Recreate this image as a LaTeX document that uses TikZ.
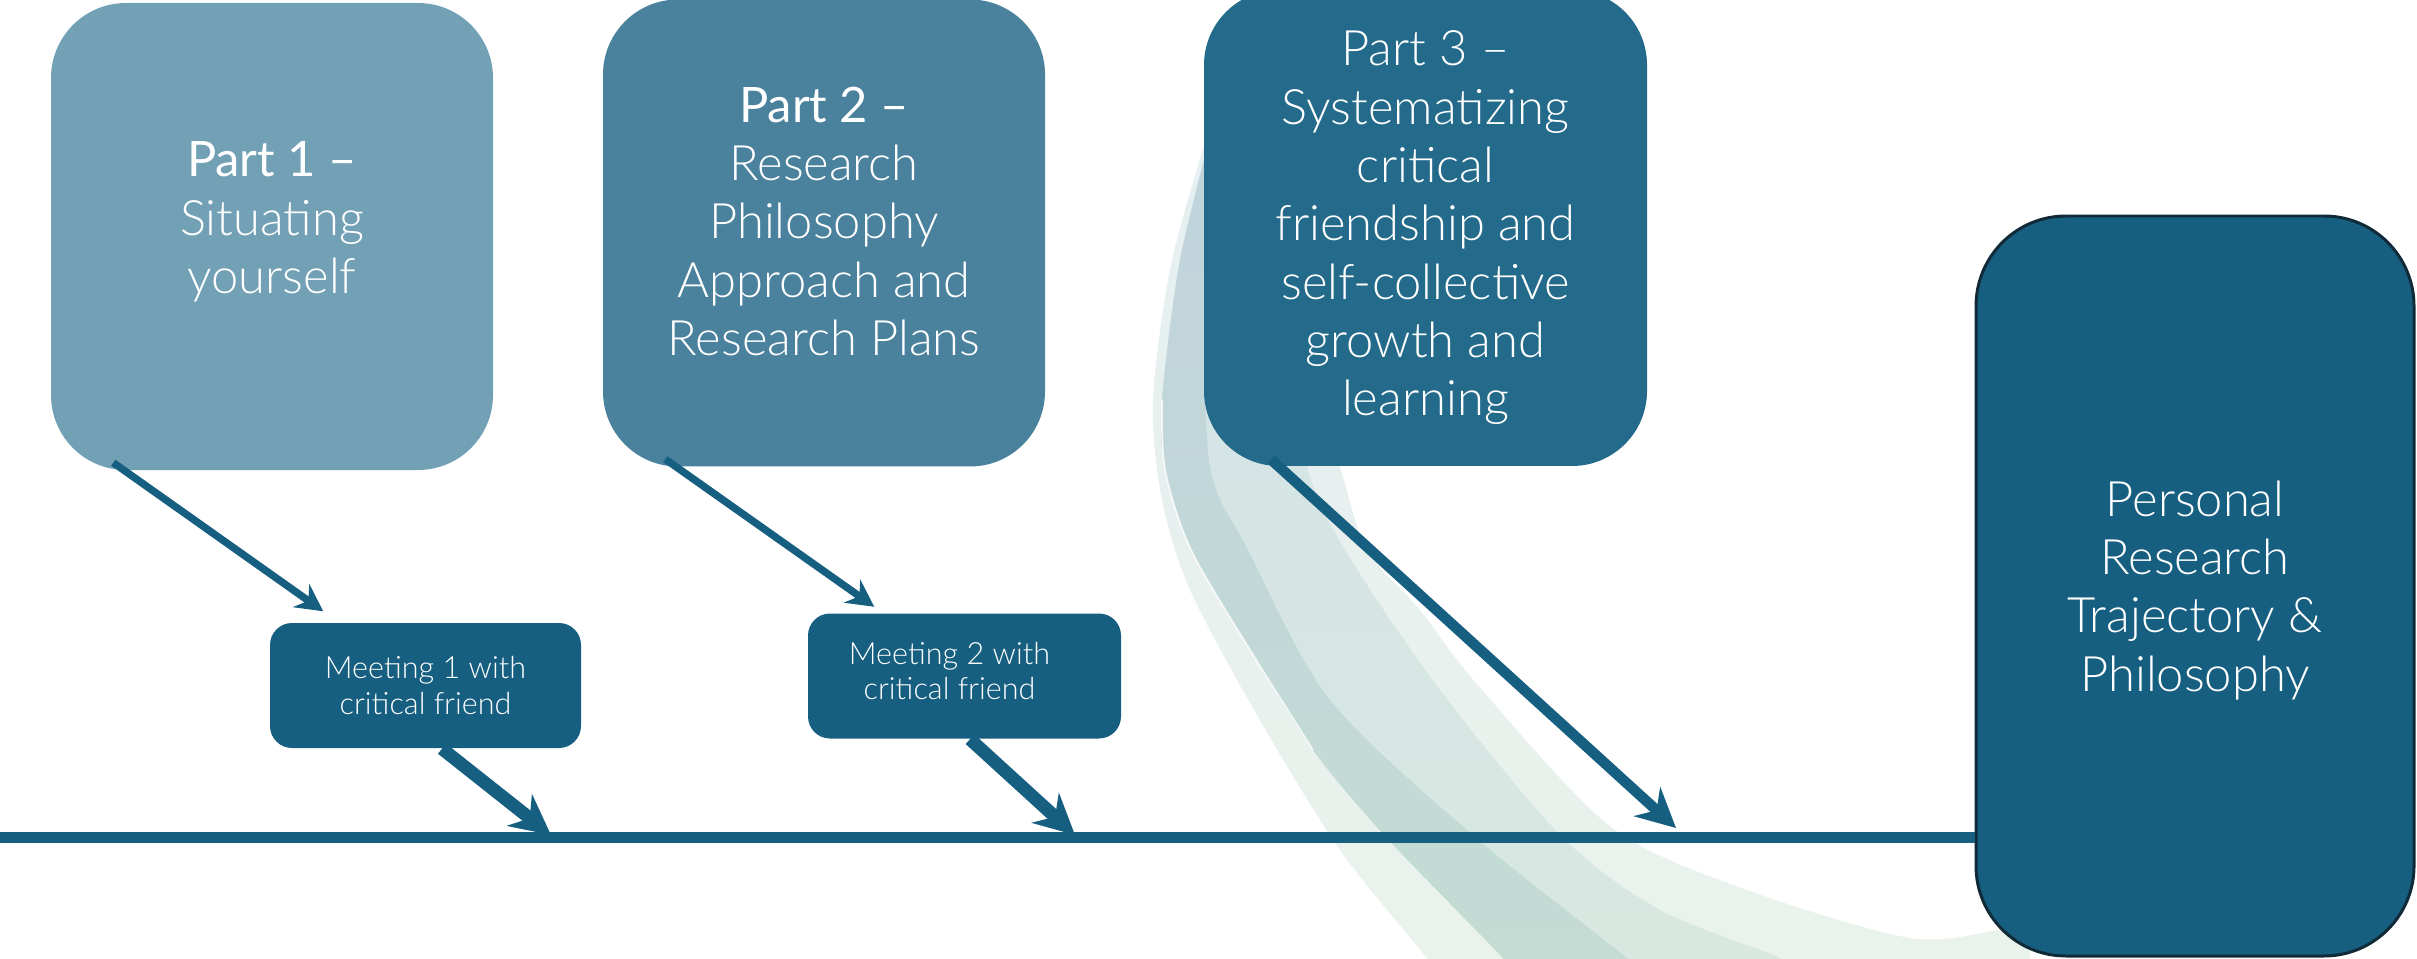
\documentclass[tikz,border=0pt]{standalone}
\usepackage{fontspec}
\setmainfont{Lato Light}
\newfontfamily\partfont{Lato}
\usetikzlibrary{arrows.meta}
\definecolor{partone}{HTML}{72A0B5}
\definecolor{parttwo}{HTML}{4A819D}
\definecolor{partthree}{HTML}{246A8A}
\definecolor{deepteal}{HTML}{175F80}
\definecolor{edgenavy}{HTML}{102A38}
\definecolor{swdarktop}{HTML}{C0D3DC}
\definecolor{swdarkbot}{HTML}{C4DCD4}
\definecolor{swmidtop}{HTML}{D3E2E7}
\definecolor{swmidbot}{HTML}{D8E8E0}
\definecolor{swlighttop}{HTML}{E6EFF1}
\definecolor{swlightbot}{HTML}{EAF2EC}
\tikzset{%
    part/.style={rounded corners=0.75cm,minimum width=4.42cm,minimum height=4.67cm,
        inner sep=0pt,text=white,align=center,font=\fontsize{13.9}{16.6}\selectfont},
    meet/.style={fill=deepteal,rounded corners=0.22cm,minimum width=3.11cm,minimum height=1.25cm,
        inner sep=0pt,text=white,align=center,font=\fontsize{8.7}{10}\selectfont}
}

\begin{document}
\begin{tikzpicture}[
        thinarr/.style={draw=deepteal,line width=2.1pt,-{Stealth[length=2.7mm,width=2.8mm]}},
        thickarr/.style={draw=deepteal,line width=3.7pt,-{Stealth[length=4mm,width=4mm]}},
        longarr/.style={draw=deepteal,line width=3pt,-{Stealth[length=3.9mm,width=3.9mm]}},
        timeline/.style={draw=deepteal,line width=0.11cm}
        ]
        \useasboundingbox (0,0) rectangle (24.17,9.58);

        % swoosh behind everything
        \shade[top color=swlighttop,bottom color=swlightbot]
            plot[smooth] coordinates {(12.15,8.48) (11.72,6.98) (11.53,5.58) (11.62,4.58) (11.90,3.68) (12.58,2.41) (13.40,1.08) (14.27,0.0) (14.40,-0.17)}
            -- (20.3,-0.17)
            -- plot[smooth] coordinates {(20.3,0.35) (19.98,0.28) (19.10,0.20) (17.47,0.68) (16.11,1.31) (14.76,2.75) (14.20,3.48) (13.67,4.08) (13.40,4.91) (12.90,6.58) (12.40,8.08) (12.15,8.48)}
            -- cycle;
        \shade[top color=swmidtop,bottom color=swmidbot]
            plot[smooth] coordinates {(12.12,8.28) (11.80,6.98) (11.62,5.58) (11.65,4.88) (11.91,4.08) (12.50,3.08) (13.13,2.08) (13.86,1.21) (15.03,0.0) (15.15,-0.17)}
            -- plot[smooth] coordinates {(18.0,-0.17) (17.8,0.0) (16.6,0.48) (15.62,1.21) (14.40,2.68) (13.45,4.08) (13.07,4.91) (12.70,6.58) (12.40,8.18)}
            -- cycle;
        \shade[top color=swdarktop,bottom color=swdarkbot]
            plot[smooth] coordinates {(12.12,8.28) (11.80,6.98) (11.62,5.58) (11.65,4.88) (11.91,4.08) (12.50,3.08) (13.13,2.08) (13.86,1.21) (15.03,0.0) (15.15,-0.17)}
            -- plot[smooth] coordinates {(16.45,-0.17) (16.27,0.0) (14.75,1.21) (13.30,2.58) (12.48,4.08) (12.10,4.91) (12.05,6.58) (12.15,8.28)}
            -- cycle;
        \draw[white,line width=0.5pt,opacity=0.8]
            plot[smooth] coordinates {(11.62,5.58) (11.65,4.88) (11.91,4.08) (12.50,3.08) (13.13,2.08)};

        \node[part,fill=partone,text depth=0.38cm] (p1) at (2.72,7.215) {{\partfont Part 1 –}\\Situating\\yourself};
        \node[part,fill=parttwo,text depth=0.24cm] (p2) at (8.24,7.25) {{\partfont Part 2 –}\\Research\\Philosophy\\Approach and\\Research Plans};
        \node[part,fill=partthree,minimum width=4.43cm,minimum height=4.76cm] (p3) at (14.255,7.30)
            {Part 3 –\\Systematizing\\critical\\friendship and\\self-collective\\growth and\\learning};
        \node[part,fill=deepteal,draw=edgenavy,line width=0.85pt,rounded corners=0.9cm,text depth=0cm,
            minimum width=4.38cm,minimum height=7.40cm] (goal) at (21.95,3.72)
            {Personal\\Research\\Trajectory \&\\Philosophy};

        \node[meet] (m1) at (4.255,2.725) {Meeting 1 with\\critical friend};
        \node[meet,minimum width=3.13cm,text depth=0.1cm] (m2) at (9.645,2.82)
            {Meeting 2 with\hspace*{0.3cm}\\critical friend\hspace*{0.3cm}};

        \coordinate (start) at (0,1.21);
        \coordinate (t1) at (5.51,1.23);
        \coordinate (t2) at (10.75,1.23);
        \coordinate (t3) at (16.76,1.30);
        \draw[timeline] (start) -- (goal.west |- start);

        \draw[thinarr] ([shift={(0.63,0.08)}]p1.south west) -- ([shift={(0.54,0.11)}]m1.north west);
        \draw[thinarr] ([shift={(0.63,0.08)}]p2.south west) -- ([shift={(0.67,0.06)}]m2.north west);
        \draw[thickarr] ([xshift=0.165cm]m1.south) -- (t1);
        \draw[thickarr] ([xshift=0.055cm]m2.south) -- (t2);
        \draw[longarr] ([shift={(0.68,0.07)}]p3.south west) -- (t3);
\end{tikzpicture}
\end{document}
